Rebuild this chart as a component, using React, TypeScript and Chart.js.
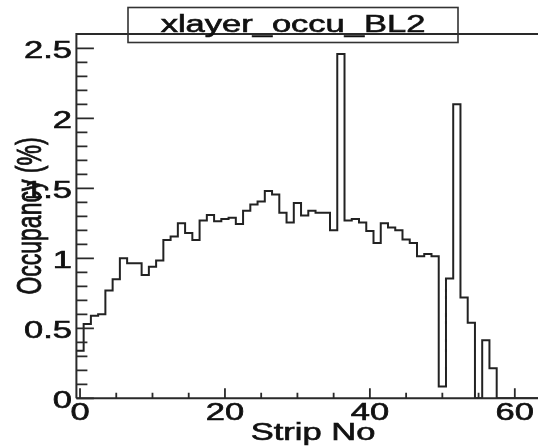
import React, { useEffect, useRef } from 'react';
import { Chart, registerables } from 'chart.js';

Chart.register(...registerables);

// ---- data ----
const TITLE = 'xlayer_occu_BL2';
const X_TITLE = 'Strip No';
const Y_TITLE = 'Occupancy (%)';

const occupancy = [
  0.34, 0.53, 0.59, 0.6, 0.77, 0.85, 1.0, 0.965, 0.965, 0.88,
  0.94, 0.985, 1.13, 1.155, 1.25, 1.18, 1.13, 1.27, 1.31, 1.265,
  1.28, 1.29, 1.245, 1.34, 1.385, 1.405, 1.48, 1.455, 1.325, 1.255,
  1.395, 1.305, 1.34, 1.325, 1.325, 1.2, 2.46, 1.27, 1.28, 1.255,
  1.195, 1.11, 1.25, 1.22, 1.2, 1.135, 1.11, 1.015, 1.03, 1.015,
  0.085, 0.855, 2.1, 0.72, 0.54, 0, 0.415, 0.215, 0, 0,
  0, 0, 0, 0,
];
const strips = occupancy.map((_, i) => i); // strip numbers (bin centres)

const xTickValues = [0, 20, 40, 60];
const xTickLabels = ['0', '20', '40', '60'];
const xMinorStep = 5;
const yTickValues = [0, 0.5, 1, 1.5, 2, 2.5];
const yTickLabels = ['0', '0.5', '1', '1.5', '2', '2.5'];
const yMinorStep = 0.1;

const X_MIN = -0.5;
const X_MAX = 63.2;
const Y_MIN = 0;
const Y_MAX = 2.602;

// ---- style ----
const FONT = '23px "Liberation Sans", Arial, sans-serif';
const SX = 1.5; // horizontal stretch of the reference
const INK = '#111';
const AXIS = '#2a2a2a';

function stretchedText(
  ctx: CanvasRenderingContext2D,
  text: string,
  x: number,
  y: number,
  align: CanvasTextAlign,
  rotate = false
) {
  ctx.save();
  ctx.translate(x, y);
  ctx.scale(SX, 1);
  if (rotate) ctx.rotate(-Math.PI / 2);
  ctx.font = FONT;
  ctx.fillStyle = INK;
  ctx.strokeStyle = INK;
  ctx.lineWidth = 0.6;
  ctx.textAlign = align;
  ctx.textBaseline = 'alphabetic';
  ctx.fillText(text, 0, 0);
  ctx.strokeText(text, 0, 0);
  ctx.restore();
}

const framePlugin = {
  id: 'rootFrame',
  afterDatasetsDraw(chart: any) {
    const ctx: CanvasRenderingContext2D = chart.ctx;
    const { left, right, top, bottom } = chart.chartArea;
    const xs = chart.scales.x;
    const ys = chart.scales.y;
    ctx.save();
    ctx.strokeStyle = AXIS;
    ctx.lineWidth = 2;
    ctx.beginPath();
    ctx.moveTo(left, bottom);
    ctx.lineTo(left, top);
    ctx.lineTo(right + 2, top);
    ctx.moveTo(left, bottom);
    ctx.lineTo(right + 2, bottom);
    ctx.stroke();

    // y ticks (inward)
    ctx.lineWidth = 1.8;
    ctx.beginPath();
    const nMinorY = Math.round(yTickValues[yTickValues.length - 1] / yMinorStep);
    for (let i = 0; i <= nMinorY; i++) {
      const v = i * yMinorStep;
      const py = ys.getPixelForValue(v);
      const major = yTickValues.some((t) => Math.abs(t - v) < 1e-6);
      ctx.moveTo(left, py);
      ctx.lineTo(left + (major ? 17.5 : 11), py);
    }
    // x ticks (inward)
    for (let v = 0; v <= X_MAX; v += xMinorStep) {
      const px = xs.getPixelForValue(v);
      const major = xTickValues.includes(v);
      ctx.moveTo(px, bottom);
      ctx.lineTo(px, bottom - (major ? 10 : 5.5));
    }
    ctx.stroke();
    ctx.restore();
  },
  afterDraw(chart: any) {
    const ctx: CanvasRenderingContext2D = chart.ctx;
    const { bottom } = chart.chartArea;
    const xs = chart.scales.x;
    const ys = chart.scales.y;

    yTickValues.forEach((v, i) => {
      stretchedText(ctx, yTickLabels[i], 72, ys.getPixelForValue(v) + 9.8, 'right');
    });
    xTickValues.forEach((v, i) => {
      stretchedText(ctx, xTickLabels[i], xs.getPixelForValue(v), bottom + 21.5, 'center');
    });
    stretchedText(ctx, X_TITLE, 313, 440, 'center');
    stretchedText(ctx, Y_TITLE, 41, 216, 'center', true);

    // title box
    ctx.save();
    ctx.strokeStyle = '#333';
    ctx.lineWidth = 1.6;
    ctx.strokeRect(128, 7.5, 330, 35);
    ctx.restore();
    stretchedText(ctx, TITLE, 293, 32.3, 'center');
  },
};

export default function App() {
  const ref = useRef<HTMLCanvasElement | null>(null);

  useEffect(() => {
    if (!ref.current) return;
    const points = strips.map((s, i) => ({ x: s - 0.5, y: occupancy[i] }));
    const last = strips.length - 1;
    points.push({ x: strips[last] + 0.5, y: occupancy[last] });

    const chart = new Chart(ref.current, {
      type: 'line',
      data: {
        datasets: [
          {
            data: points,
            stepped: true,
            borderColor: '#222',
            borderWidth: 2,
            pointRadius: 0,
            fill: false,
            tension: 0,
          },
        ],
      },
      options: {
        animation: false,
        responsive: false,
        devicePixelRatio: 1,
        layout: { padding: { left: 76.4, top: 34, right: 0, bottom: 47.7 } },
        plugins: {
          legend: { display: false },
          title: { display: false },
          tooltip: { enabled: false },
        },
        scales: {
          x: { type: 'linear', min: X_MIN, max: X_MAX, display: false },
          y: { type: 'linear', min: Y_MIN, max: Y_MAX, display: false },
        },
      },
      plugins: [framePlugin],
    } as any);
    return () => chart.destroy();
  }, []);

  return (
    <div style={{ position: 'fixed', left: 0, top: 0, width: 538, height: 446, background: '#fff' }}>
      <canvas ref={ref} width={538} height={446} style={{ display: 'block' }} />
    </div>
  );
}
